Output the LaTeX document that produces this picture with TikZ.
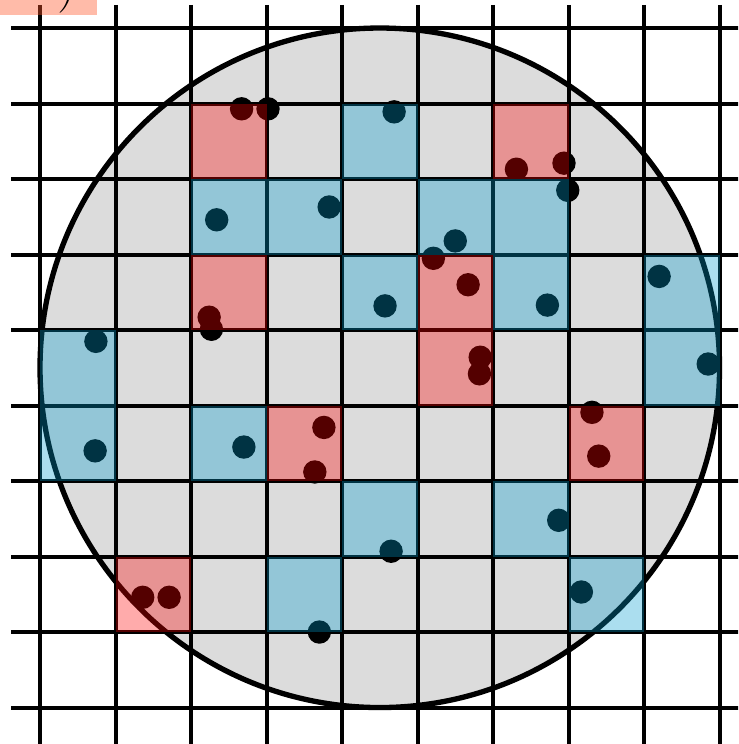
\documentclass[tikz,border=0pt]{standalone}
\usepackage{tikz}
\definecolor{cellred}{RGB}{255,0,0}
\definecolor{cellblue}{RGB}{0,155,205}
\definecolor{disc}{RGB}{220,220,220}
\definecolor{tagred}{RGB}{255,85,40}

\begin{document}
\begin{tikzpicture}[
  gridline/.style={line width=1.5pt},
  rim/.style={line width=2pt},
  redcell/.style={fill=cellred, fill opacity=0.33},
  bluecell/.style={fill=cellblue, fill opacity=0.33},
  ptdot/.style={fill=black},
]
\useasboundingbox (-0.53,-9.483) rectangle (9.245,0.371);
\clip (-0.53,-9.483) rectangle (9.245,0.371);

% disc
\fill[disc] (4.5,-4.5) circle (4.5);
\draw[rim] (4.5,-4.5) circle (4.5);

% grid
\foreach \i in {0,...,9} {
  \draw[gridline] (\i,0.305) -- (\i,-9.7);
  \draw[gridline] (-0.384,-\i) -- (9.4,-\i);
}

% points
\foreach \x/\y in {2.67/-1.07, 3.02/-1.07, 4.69/-1.11, 6.31/-1.87, 6.94/-1.79,
  6.99/-2.15, 2.34/-2.54, 3.83/-2.37, 5.50/-2.82, 5.21/-3.05, 5.67/-3.40,
  8.20/-3.29, 2.24/-3.83, 2.27/-3.99, 4.57/-3.68, 6.72/-3.67, 0.74/-4.15,
  5.83/-4.36, 5.82/-4.58, 8.85/-4.45, 7.31/-5.09, 7.40/-5.67, 3.76/-5.29,
  3.64/-5.88, 2.70/-5.55, 0.73/-5.60, 6.87/-6.52, 4.65/-6.93, 1.36/-7.54,
  1.71/-7.54, 7.17/-7.47, 3.70/-8.00}
  \fill[ptdot] (\x,\y) circle (0.155);

% cells
\foreach \c/\r in {2/1, 6/1, 2/3, 5/3, 5/4, 3/5, 7/5, 1/7}
  \fill[redcell] (\c,-\r) rectangle ++(1,-1);
\foreach \c/\r in {4/1, 2/2, 3/2, 5/2, 6/2, 4/3, 6/3, 8/3, 0/4, 8/4,
  0/5, 2/5, 4/6, 6/6, 3/7, 7/7}
  \fill[bluecell] (\c,-\r) rectangle ++(1,-1);

% tag
\fill[tagred, fill opacity=0.4] (-0.53,0.172) rectangle (0.755,0.5);
\node[anchor=base, font=\huge, inner sep=0pt] (tag) at (0.36,0.38) {)};
\end{tikzpicture}
\end{document}
